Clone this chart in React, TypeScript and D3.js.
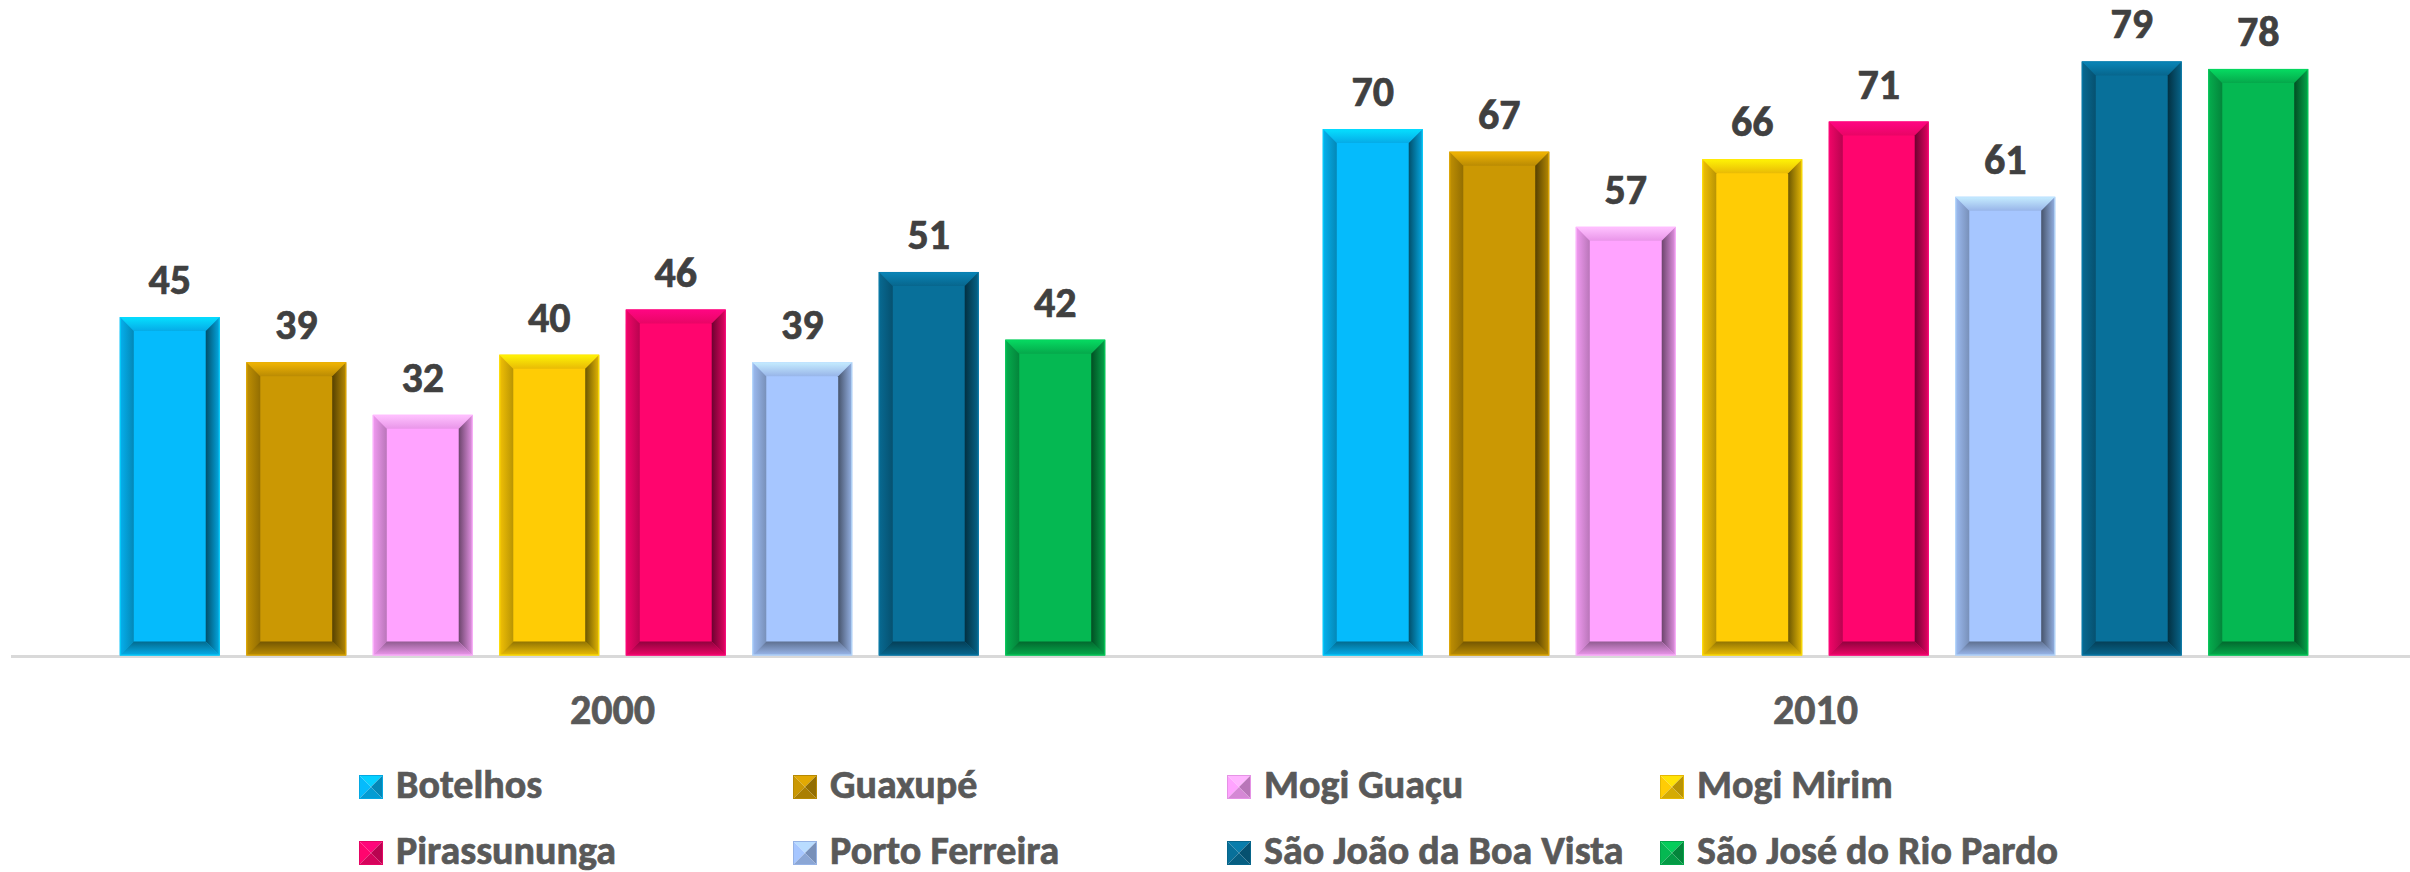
import React from "react";
import * as d3 from "d3";

// dados
const years = ["2000", "2010"];
const cities = [
  "Botelhos",
  "Guaxupé",
  "Mogi Guaçu",
  "Mogi Mirim",
  "Pirassununga",
  "Porto Ferreira",
  "São João da Boa Vista",
  "São José do Rio Pardo",
];
const values2000 = [45, 39, 32, 40, 46, 39, 51, 42];
const values2010 = [70, 67, 57, 66, 71, 61, 79, 78];
const colors = [
  "#05BBFC",
  "#CB9803",
  "#FFA3FF",
  "#FFCC05",
  "#FF056E",
  "#A6C6FF",
  "#08709A",
  "#05B852",
];

const W = 2410;
const H = 872;
const FONT = "Carlito, Calibri, Lato, sans-serif";
const BEVEL = 14;

const seriesByYear: Record<string, number[]> = { "2000": values2000, "2010": values2010 };

export default function App() {
  const x0 = d3.scaleBand().domain(years).range([11, 2417]);
  const x1 = d3
    .scaleBand()
    .domain(cities)
    .range([0, x0.bandwidth()])
    .paddingInner(0.21)
    .paddingOuter(0.86);
  const y = d3.scaleLinear().domain([0, 80]).range([655.5, 53.9]);
  const color = d3.scaleOrdinal<string, string>().domain(cities).range(colors);

  const bevelGrad = (i: number, side: string) => `g-${i}-${side}`;
  const sides = [
    { side: "top", x1: 0, y1: 0, x2: 0, y2: 1, outer: (c: any) => c.brighter(0.5), inner: (c: any) => c.darker(0.25) },
    { side: "left", x1: 0, y1: 0, x2: 1, y2: 0, outer: (c: any) => c.darker(0.15), inner: (c: any) => c.darker(0.9) },
    { side: "right", x1: 1, y1: 0, x2: 0, y2: 0, outer: (c: any) => c.darker(0.3), inner: (c: any) => c.darker(2.4) },
    { side: "bottom", x1: 0, y1: 1, x2: 0, y2: 0, outer: (c: any) => c.darker(0.2), inner: (c: any) => c.darker(1.6) },
  ];

  const bar = (yr: string, city: string, v: number, i: number) => {
    const a = (x0(yr) as number) + (x1(city) as number);
    const b = a + x1.bandwidth();
    const top = y(v);
    const bot = y(0);
    const e = BEVEL;
    const pts: Record<string, number[][]> = {
      top: [[a, top], [b, top], [b - e, top + e], [a + e, top + e]],
      left: [[a, top], [a + e, top + e], [a + e, bot - e], [a, bot]],
      right: [[b, top], [b - e, top + e], [b - e, bot - e], [b, bot]],
      bottom: [[a, bot], [b, bot], [b - e, bot - e], [a + e, bot - e]],
    };
    const base = d3.color(color(city)) as d3.RGBColor;
    return (
      <g key={yr + city}>
        <rect x={a} y={top} width={b - a} height={bot - top} fill={color(city)} />
        {sides.map((s) => (
          <polygon key={s.side} points={pts[s.side].map((p) => p.join(",")).join(" ")} fill={`url(#${bevelGrad(i, s.side)})`} />
        ))}
        <rect x={a + 0.5} y={top + 0.5} width={b - a - 1} height={bot - top - 1} fill="none" stroke={base.brighter(0.4).formatHex()} strokeWidth={1} opacity={0.8} />
        <text
          x={(a + b) / 2}
          y={top - 23}
          textAnchor="middle"
          fontFamily={FONT}
          fontWeight={700}
          fontSize={42}
          fill="#404040"
          stroke="#404040"
          strokeWidth={0.7}
        >
          {v}
        </text>
      </g>
    );
  };

  // legenda 4 x 2
  const legCols = [359, 793, 1227, 1660];
  const legRows = [798, 864];
  const marker = (cx: number, baseY: number, city: string) => {
    const s = 24;
    const l = cx;
    const t = baseY - 23;
    const m = [l + s / 2, t + s / 2];
    const c = d3.color(color(city)) as d3.RGBColor;
    const tri = (p: number[][], f: string) => (
      <polygon points={p.map((q) => q.join(",")).join(" ")} fill={f} />
    );
    return (
      <g>
        {tri([[l, t], [l + s, t], m], c.brighter(0.3).formatHex())}
        {tri([[l, t], [l, t + s], m], c.formatHex())}
        {tri([[l + s, t], [l + s, t + s], m], c.darker(0.9).formatHex())}
        {tri([[l, t + s], [l + s, t + s], m], c.darker(0.5).formatHex())}
        <rect x={l + 0.5} y={t + 0.5} width={s - 1} height={s - 1} fill="none" stroke={c.darker(0.3).formatHex()} strokeWidth={1} />
      </g>
    );
  };

  return (
    <svg width={W} height={H} style={{ position: "absolute", left: 0, top: 0, background: "#fff" }}>
      <defs>
        {cities.map((city, i) => {
          const c = d3.color(color(city)) as d3.RGBColor;
          return sides.map((s) => (
            <linearGradient key={city + s.side} id={bevelGrad(i, s.side)} x1={s.x1} y1={s.y1} x2={s.x2} y2={s.y2}>
              <stop offset="0%" stopColor={s.outer(c).formatHex()} />
              <stop offset="100%" stopColor={s.inner(c).formatHex()} />
            </linearGradient>
          ));
        })}
      </defs>

      <line x1={11} x2={W} y1={656.5} y2={656.5} stroke="#D9D9D9" strokeWidth={3} />

      {years.map((yr) => cities.map((city, i) => bar(yr, city, seriesByYear[yr][i], i)))}

      {years.map((yr) => (
        <text
          key={yr}
          x={(x0(yr) as number) + x0.bandwidth() / 2}
          y={724}
          textAnchor="middle"
          fontFamily={FONT}
          fontWeight={700}
          fontSize={42}
          fill="#595959"
          stroke="#595959"
          strokeWidth={0.7}
        >
          {yr}
        </text>
      ))}

      {cities.map((city, i) => {
        const cx = legCols[i % 4];
        const by = legRows[Math.floor(i / 4)];
        return (
          <g key={city}>
            {marker(cx, by, city)}
            <text
              x={cx + 37}
              y={by}
              fontFamily={FONT}
              fontWeight={700}
              fontSize={40}
              fill="#595959"
              stroke="#595959"
              strokeWidth={0.7}
            >
              {city}
            </text>
          </g>
        );
      })}
    </svg>
  );
}
